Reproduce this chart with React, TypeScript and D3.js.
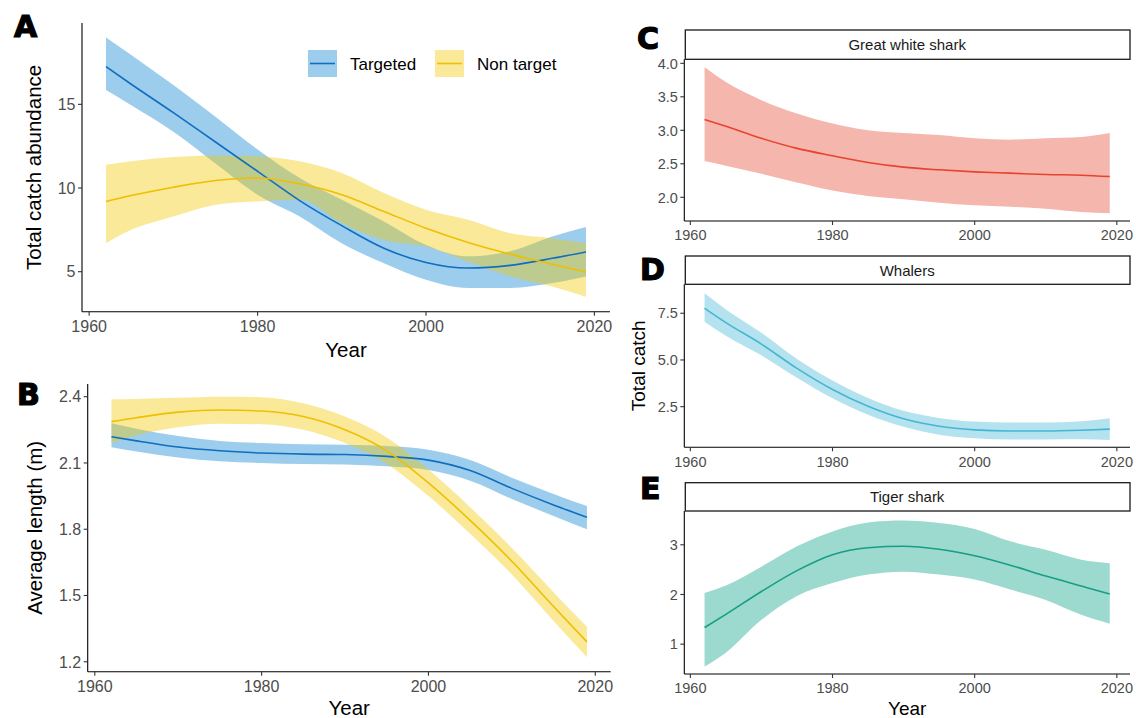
import React from "react";
import * as d3 from "d3";

// ---------- DATA ----------
const years = [1962, 1965, 1970, 1975, 1980, 1985, 1990, 1995, 2000, 2005, 2010, 2015, 2019];
const xTicks = [1960, 1980, 2000, 2020];

// Panel A: total catch abundance
const aTargetMean = [17.25, 16.2, 14.5, 12.75, 11.0, 9.25, 7.75, 6.4, 5.55, 5.22, 5.38, 5.8, 6.18];
const aTargetLo = [15.85, 14.95, 13.36, 11.47, 9.6, 8.3, 6.7, 5.5, 4.52, 4.03, 4.03, 4.32, 4.72];
const aTargetHi = [19.0, 17.95, 16.15, 14.26, 12.3, 10.6, 9.3, 8.0, 6.6, 5.92, 6.22, 7.1, 7.67];
const aNonMean = [9.2, 9.55, 10.05, 10.45, 10.6, 10.25, 9.6, 8.6, 7.6, 6.75, 6.05, 5.45, 4.98];
const aNonLo = [6.7, 7.5, 8.3, 9.0, 9.2, 9.3, 7.9, 6.9, 6.5, 5.6, 4.72, 4.12, 3.5];
const aNonHi = [11.39, 11.6, 11.85, 11.95, 11.9, 11.6, 10.9, 9.7, 8.7, 8.1, 7.3, 7.0, 6.7];
const aYTicks = [5, 10, 15];

// Panel B: average length (m)
const bTargetMean = [2.219, 2.2, 2.172, 2.155, 2.145, 2.14, 2.138, 2.13, 2.113, 2.066, 1.985, 1.91, 1.854];
const bTargetLo = [2.171, 2.152, 2.125, 2.108, 2.1, 2.095, 2.093, 2.085, 2.068, 2.02, 1.937, 1.86, 1.8];
const bTargetHi = [2.28, 2.255, 2.222, 2.2, 2.19, 2.185, 2.183, 2.177, 2.16, 2.113, 2.033, 1.96, 1.905];
const bNonMean = [2.287, 2.305, 2.33, 2.34, 2.335, 2.31, 2.25, 2.155, 2.01, 1.84, 1.655, 1.45, 1.29];
const bNonLo = [2.19, 2.225, 2.262, 2.278, 2.275, 2.25, 2.19, 2.095, 1.95, 1.78, 1.595, 1.385, 1.22];
const bNonHi = [2.388, 2.39, 2.395, 2.4, 2.398, 2.37, 2.31, 2.215, 2.07, 1.9, 1.715, 1.515, 1.358];
const bYTicks = [1.2, 1.5, 1.8, 2.1, 2.4];

// Panel C: great white shark
const cMean = [3.16, 3.06, 2.88, 2.73, 2.62, 2.52, 2.45, 2.41, 2.38, 2.36, 2.34, 2.33, 2.31];
const cLo = [2.54, 2.47, 2.35, 2.22, 2.1, 2.02, 1.97, 1.92, 1.88, 1.86, 1.83, 1.78, 1.76];
const cHi = [3.94, 3.72, 3.45, 3.25, 3.1, 3.0, 2.96, 2.93, 2.88, 2.86, 2.88, 2.9, 2.96];
const cYTicks = [2.0, 2.5, 3.0, 3.5, 4.0];

// Panel D: whalers
const dMean = [7.77, 7.0, 5.85, 4.55, 3.42, 2.52, 1.85, 1.45, 1.26, 1.2, 1.2, 1.24, 1.3];
const dLo = [7.05, 6.3, 5.25, 4.05, 2.95, 2.07, 1.42, 1.0, 0.81, 0.74, 0.74, 0.75, 0.72];
const dHi = [8.57, 7.7, 6.45, 5.05, 3.9, 2.97, 2.28, 1.9, 1.7, 1.65, 1.65, 1.72, 1.88];
const dYTicks = [2.5, 5.0, 7.5];

// Panel E: tiger shark
const eMean = [1.335, 1.6, 2.06, 2.48, 2.8, 2.94, 2.97, 2.91, 2.78, 2.59, 2.37, 2.17, 2.01];
const eLo = [0.55, 0.83, 1.49, 1.97, 2.23, 2.4, 2.46, 2.4, 2.3, 2.1, 1.89, 1.59, 1.41];
const eHi = [2.03, 2.18, 2.56, 2.97, 3.27, 3.45, 3.49, 3.44, 3.32, 3.07, 2.9, 2.7, 2.63];
const eYTicks = [1, 2, 3];

const legendLabels = ["Targeted", "Non target"];

// ---------- STYLE ----------
const FONT = "'Liberation Sans', Arial, Helvetica, sans-serif";
const TICK_COLOR = "#4d4d4d";
const X_DOMAIN: [number, number] = [1959.15, 2021.85];

type Series = {
  mean: number[];
  lo: number[];
  hi: number[];
  line: string;
  fill: string;
  fillOpacity: number;
};

type PanelProps = {
  left: number;
  right: number;
  top: number;
  bottom: number;
  yDomain: [number, number];
  yTicks: number[];
  yFmt: (v: number) => string;
  series: Series[];
  tickSize: number;
  xTitle?: string;
  xTitleY?: number;
  xTitleSize?: number;
  yTitle?: string;
  yTitleX?: number;
  yTitleSize?: number;
  strip?: string;
  stripTop?: number;
};

function Panel(p: PanelProps) {
  const x = d3.scaleLinear().domain(X_DOMAIN).range([p.left, p.right]);
  const y = d3.scaleLinear().domain(p.yDomain).range([p.bottom, p.top]);
  const curve = d3.curveMonotoneX;
  const idx = years.map((_, i) => i);
  const ts = p.tickSize;
  return (
    <g>
      {p.strip && p.stripTop !== undefined && (
        <g>
          <rect
            x={p.left + 1}
            y={p.stripTop}
            width={p.right - p.left - 1}
            height={p.top - p.stripTop}
            fill="#ffffff"
            stroke="#1a1a1a"
            strokeWidth={1.3}
          />
          <text
            x={(p.left + p.right) / 2}
            y={(p.stripTop + p.top) / 2 + 5.5}
            textAnchor="middle"
            fontSize={15}
            fill="#1a1a1a"
            fontFamily={FONT}
          >
            {p.strip}
          </text>
        </g>
      )}
      {p.series.map((s, k) => {
        const area = d3
          .area<number>()
          .x((i) => x(years[i]))
          .y0((i) => y(s.lo[i]))
          .y1((i) => y(s.hi[i]))
          .curve(curve);
        return <path key={"a" + k} d={area(idx) || ""} fill={s.fill} fillOpacity={s.fillOpacity} stroke="none" />;
      })}
      {p.series.map((s, k) => {
        const line = d3
          .line<number>()
          .x((i) => x(years[i]))
          .y((i) => y(s.mean[i]))
          .curve(curve);
        return <path key={"l" + k} d={line(idx) || ""} fill="none" stroke={s.line} strokeWidth={1.6} />;
      })}
      {/* axes */}
      <line x1={p.left} x2={p.left} y1={p.top} y2={p.bottom} stroke="#000" strokeWidth={1.1} />
      <line x1={p.left} x2={p.right} y1={p.bottom} y2={p.bottom} stroke="#000" strokeWidth={1.1} />
      {p.yTicks.map((t) => (
        <g key={"yt" + t}>
          <line x1={p.left - 4} x2={p.left} y1={y(t)} y2={y(t)} stroke="#333" strokeWidth={1.1} />
          <text
            x={p.left - 6.5}
            y={y(t) + ts * 0.36}
            textAnchor="end"
            fontSize={ts}
            fill={TICK_COLOR}
            fontFamily={FONT}
          >
            {p.yFmt(t)}
          </text>
        </g>
      ))}
      {xTicks.map((t) => (
        <g key={"xt" + t}>
          <line x1={x(t)} x2={x(t)} y1={p.bottom} y2={p.bottom + 4} stroke="#333" strokeWidth={1.1} />
          <text
            x={x(t)}
            y={p.bottom + 7 + ts * 0.86}
            textAnchor="middle"
            fontSize={ts}
            fill={TICK_COLOR}
            fontFamily={FONT}
          >
            {t}
          </text>
        </g>
      ))}
      {p.xTitle && (
        <text
          x={(p.left + p.right) / 2}
          y={p.xTitleY}
          textAnchor="middle"
          fontSize={p.xTitleSize || 20}
          fill="#000"
          fontFamily={FONT}
        >
          {p.xTitle}
        </text>
      )}
      {p.yTitle && (
        <text
          transform={`translate(${p.yTitleX},${(p.top + p.bottom) / 2}) rotate(-90)`}
          textAnchor="middle"
          fontSize={p.yTitleSize || 20}
          fill="#000"
          fontFamily={FONT}
        >
          {p.yTitle}
        </text>
      )}
    </g>
  );
}

const BLUE_LINE = "#0f6ec0";
const BLUE_FILL = "#3c9bdb";
const YEL_LINE = "#efbf00";
const YEL_FILL = "#efc900";

function Letter({ x, y, t }: { x: number; y: number; t: string }) {
  return (
    <text
      x={x}
      y={y}
      fontSize={30}
      fontWeight="bold"
      fontFamily="'DejaVu Sans', sans-serif"
      fill="#000"
      stroke="#000"
      strokeWidth={1.2}
    >
      {t}
    </text>
  );
}

export default function App() {
  const aSeries: Series[] = [
    { mean: aTargetMean, lo: aTargetLo, hi: aTargetHi, line: BLUE_LINE, fill: BLUE_FILL, fillOpacity: 0.5 },
    { mean: aNonMean, lo: aNonLo, hi: aNonHi, line: YEL_LINE, fill: YEL_FILL, fillOpacity: 0.4 },
  ];
  const bSeries: Series[] = [
    { mean: bTargetMean, lo: bTargetLo, hi: bTargetHi, line: BLUE_LINE, fill: BLUE_FILL, fillOpacity: 0.5 },
    { mean: bNonMean, lo: bNonLo, hi: bNonHi, line: YEL_LINE, fill: YEL_FILL, fillOpacity: 0.4 },
  ];
  const f1 = d3.format(".1f");
  const f0 = (v: number) => String(v);
  return (
    <svg
      width={1136}
      height={718}
      style={{ position: "absolute", left: 0, top: 0, display: "block", background: "#fff" }}
    >
      <rect x={0} y={0} width={1136} height={718} fill="#fff" />
      {/* Panel A */}
      <Panel
        left={82}
        right={610}
        top={23}
        bottom={311.7}
        yDomain={[2.61, 19.86]}
        yTicks={aYTicks}
        yFmt={f0}
        series={aSeries}
        tickSize={16}
        xTitle="Year"
        xTitleY={357}
        xTitleSize={20.5}
        yTitle="Total catch abundance"
        yTitleX={41}
        yTitleSize={20.5}
      />
      {/* Legend */}
      <g>
        {legendLabels.map((lab, i) => {
          const kx = i === 0 ? 308 : 435;
          const s = aSeries[i];
          return (
            <g key={lab}>
              <rect x={kx} y={50} width={29} height={27} fill={s.fill} fillOpacity={s.fillOpacity} />
              <line x1={kx + 2} x2={kx + 27} y1={63.5} y2={63.5} stroke={s.line} strokeWidth={1.6} />
              <text x={kx + 42} y={69.5} fontSize={17} fill="#000" fontFamily={FONT}>
                {lab}
              </text>
            </g>
          );
        })}
      </g>
      {/* Panel B */}
      <Panel
        left={87.7}
        right={610.7}
        top={384}
        bottom={671.7}
        yDomain={[1.155, 2.4575]}
        yTicks={bYTicks}
        yFmt={f1}
        series={bSeries}
        tickSize={16}
        xTitle="Year"
        xTitleY={715}
        xTitleSize={20.5}
        yTitle="Average length (m)"
        yTitleX={42}
        yTitleSize={20.5}
      />
      {/* Panel C */}
      <Panel
        left={684.3}
        right={1130}
        top={59.3}
        bottom={221}
        yDomain={[1.646, 4.06]}
        yTicks={cYTicks}
        yFmt={f1}
        tickSize={14.5}
        series={[{ mean: cMean, lo: cLo, hi: cHi, line: "#e8432d", fill: "#f5b6ae", fillOpacity: 1 }]}
        strip="Great white shark"
        stripTop={30}
      />
      {/* Panel D */}
      <Panel
        left={684.3}
        right={1130}
        top={284.3}
        bottom={447.3}
        yDomain={[0.325, 9.05]}
        yTicks={dYTicks}
        yFmt={f1}
        tickSize={14.5}
        series={[{ mean: dMean, lo: dLo, hi: dHi, line: "#45b6d3", fill: "#b4e2ee", fillOpacity: 1 }]}
        strip="Whalers"
        stripTop={256}
        yTitle="Total catch"
        yTitleX={645}
        yTitleSize={19}
      />
      {/* Panel E */}
      <Panel
        left={684.3}
        right={1130}
        top={511}
        bottom={674}
        yDomain={[0.4, 3.68]}
        yTicks={eYTicks}
        yFmt={f0}
        tickSize={14.5}
        series={[{ mean: eMean, lo: eLo, hi: eHi, line: "#169e86", fill: "#9cd9cf", fillOpacity: 1 }]}
        strip="Tiger shark"
        stripTop={482.7}
        xTitle="Year"
        xTitleY={715}
        xTitleSize={19}
      />
      <Letter x={14} y={37} t="A" />
      <Letter x={17} y={405} t="B" />
      <Letter x={637} y={49} t="C" />
      <Letter x={640} y={280} t="D" />
      <Letter x={640} y={499} t="E" />
    </svg>
  );
}
